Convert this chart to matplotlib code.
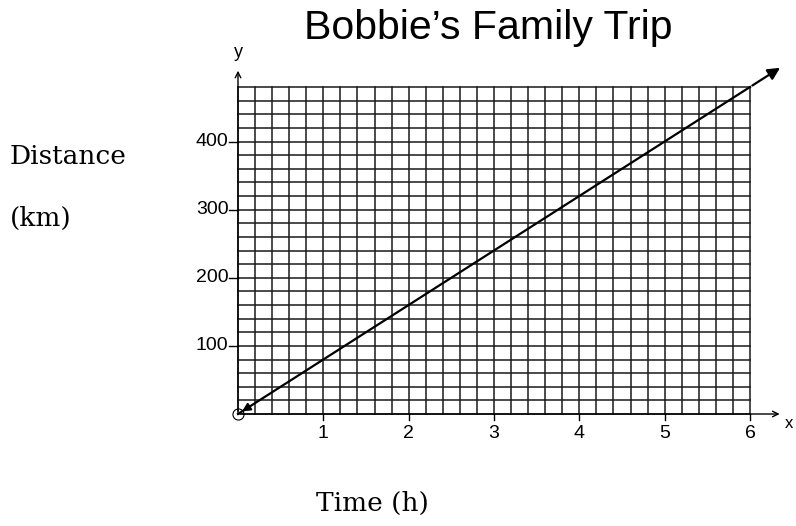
import matplotlib
matplotlib.use("Agg")
import matplotlib.pyplot as plt
import numpy as np

# data
times = [0, 6]
distances = [0, 480]
x_ticks = [1, 2, 3, 4, 5, 6]
y_ticks = [100, 200, 300, 400]
x_grid_step = 0.2
y_grid_step = 20
x_max = 6
y_max = 480

fig = plt.figure(figsize=(7.96, 5.26), dpi=100)
ax = fig.add_axes([238/796, (526-414)/526, 512/796, 327/526])
ax.set_xlim(0, x_max)
ax.set_ylim(0, y_max)
for s in ax.spines.values():
    s.set_visible(False)
ax.set_xticks([])
ax.set_yticks([])

gc = '#1a1a1a'
for gx in np.arange(0, x_max + 1e-9, x_grid_step):
    ax.plot([gx, gx], [0, y_max], color=gc, lw=1.1, clip_on=False, zorder=1)
for gy in np.arange(0, y_max + 1e-9, y_grid_step):
    ax.plot([0, x_max], [gy, gy], color=gc, lw=1.1, clip_on=False, zorder=1)

# axes with arrows
ax.annotate('', xy=(6.38, 0), xytext=(0, 0),
            arrowprops=dict(arrowstyle='->', color='black', lw=1.0, mutation_scale=10),
            annotation_clip=False)
ax.annotate('', xy=(0, 508), xytext=(0, 0),
            arrowprops=dict(arrowstyle='->', color='black', lw=1.0, mutation_scale=10),
            annotation_clip=False)
ax.text(6.41, -14, 'x', ha='left', va='center', fontsize=12, family='Liberation Sans')
ax.text(0, 530, 'y', ha='center', va='center', fontsize=13, family='Liberation Sans')

# ticks
for t in x_ticks:
    ax.plot([t, t], [0, -9], color='black', lw=1.0, clip_on=False)
    ax.text(t, -28, str(t), ha='center', va='center', fontsize=14, family='Liberation Sans')
for t in y_ticks:
    ax.plot([0, -0.1], [t, t], color='black', lw=1.0, clip_on=False)
    ax.text(-0.11, t, str(t), ha='right', va='center', fontsize=14, family='Liberation Sans')

# main line
slope = distances[1] / times[1]
x_end = 6.38
ax.plot(times, distances, color='black', lw=1.6, clip_on=False, zorder=3)
ax.annotate('', xy=(x_end, slope * x_end), xytext=(times[1], distances[1]),
            arrowprops=dict(arrowstyle='-|>', color='black', lw=1.6, mutation_scale=18),
            annotation_clip=False, zorder=4)
ax.annotate('', xy=(0.02, 1.6), xytext=(0.15, 12),
            arrowprops=dict(arrowstyle='-|>', color='black', lw=1.4, mutation_scale=12),
            annotation_clip=False, zorder=4)
ax.plot([0], [0], marker='o', markersize=8, markerfacecolor='none',
        markeredgecolor='black', markeredgewidth=0.8, clip_on=False, zorder=4)

fig.text(488/796, 1 - 28/526, "Bobbie\u2019s Family Trip", ha='center', va='center',
         fontsize=29.5, family='Liberation Sans')
fig.text(10/796, 1 - 157/526, 'Distance', ha='left', va='center',
         fontsize=19, family='DejaVu Serif')
fig.text(10/796, 1 - 218/526, '(km)', ha='left', va='center',
         fontsize=19, family='DejaVu Serif')
fig.text(372/796, 1 - 503/526, 'Time (h)', ha='center', va='center',
         fontsize=19, family='DejaVu Serif')

fig.savefig('out.png', dpi=100)
